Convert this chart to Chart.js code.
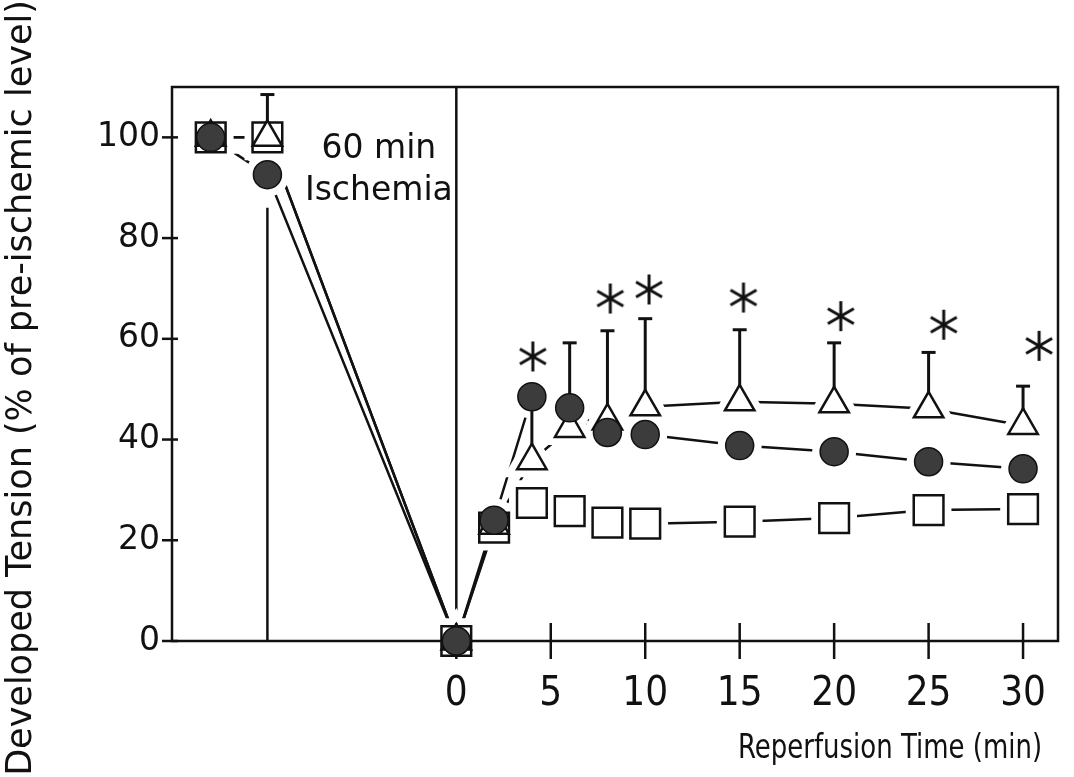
<!DOCTYPE html>
<html>
<head>
<meta charset="utf-8">
<script src="https://cdn.jsdelivr.net/npm/chart.js@4.4.0/dist/chart.umd.min.js"></script>
<style>
  html, body { margin: 0; padding: 0; background: #fff; }
  canvas { display: block; }
</style>
</head>
<body>
<canvas id="c" width="1074" height="777"></canvas>
<script>
// x positions (min); the two pre-ischemic readings sit left of 0
const times = [-13, -10, 0, 2, 4, 6, 8, 10, 15, 20, 25, 30];
const circleVals = [100, 92.6, 0, 24, 48.5, 46.3, 41.4, 41, 38.8, 37.6, 35.6, 34.2];
const triangleVals = [100, 100, 0, 23, 35.8, 42.2, 43.7, 46.5, 47.5, 47.1, 46.1, 42.8];
const squareVals = [100, 100, 0, 22.5, 27.4, 25.8, 23.5, 23.3, 23.7, 24.4, 26, 26.2];
const triangleErrTop = [null, 108.5, null, null, 47, 59.2, 61.6, 64, 61.8, 59.2, 57.3, 50.6];

// significance marks
const starX = [4.05, 8.15, 10.2, 15.2, 20.35, 25.8, 30.85];
const starY = [56.5, 68, 69.8, 68.2, 64.5, 62.8, 58.6];

const xTicks = [0, 5, 10, 15, 20, 25, 30];
const xTickLabels = ['0', '5', '10', '15', '20', '25', '30'];
const yTicks = [0, 20, 40, 60, 80, 100];

// ischemia period boundaries and how high each line goes
const boundX = [-10, 0];
const boundTop = [86, 110];
const ischemiaText = ['60 min', 'Ischemia'];
const ischemiaTextPos = { x: -4.1, y: [96, 87.6] };

const xTitle = 'Reperfusion Time (min)';
const yTitle = 'Developed Tension (% of pre-ischemic level)';

const pts = vals => times.map((t, i) => ({ x: t, y: vals[i] }));

// 6-armed asterisk used as a point style
const star = document.createElement('canvas');
star.width = 34; star.height = 34;
(() => {
  const g = star.getContext('2d');
  g.strokeStyle = '#111';
  g.lineWidth = 3;
  [90, 30, 150].forEach(a => {
    const r = a * Math.PI / 180;
    g.beginPath();
    g.moveTo(17 - Math.cos(r) * 15, 17 - Math.sin(r) * 15);
    g.lineTo(17 + Math.cos(r) * 15, 17 + Math.sin(r) * 15);
    g.stroke();
  });
})();

const series = [
  { vals: squareVals, style: 'rect', r: 21, fill: '#fff', bw: 2.5, order: 13 },
  { vals: triangleVals, style: 'triangle', r: 17, fill: '#fff', bw: 2.5, order: 12 },
  { vals: circleVals, style: 'circle', r: 14, fill: '#3c3c3c', bw: 1.5, order: 11 },
];

const datasets = [];
// connecting lines
series.forEach(s => datasets.push({
  data: pts(s.vals), borderColor: '#111', borderWidth: 2.5, pointRadius: 0,
  tension: 0, clip: false, order: 30,
}));
boundX.forEach((bx, i) => datasets.push({
  data: [{ x: bx, y: 0 }, { x: bx, y: boundTop[i] }], borderColor: '#111', borderWidth: 2.5,
  pointRadius: 0, clip: false, order: 30,
}));
// white halos so lines stop short of the symbols
series.forEach(s => datasets.push({
  data: pts(s.vals), showLine: false, pointStyle: s.style, pointRadius: s.r,
  pointBackgroundColor: '#fff', pointBorderColor: '#fff', pointBorderWidth: 16,
  clip: false, order: 20,
}));
// symbols
series.forEach((s, i) => datasets.push({
  data: pts(s.vals), showLine: false, pointStyle: s.style, pointRadius: s.r,
  pointBackgroundColor: s.fill, pointBorderColor: '#111', pointBorderWidth: s.bw,
  clip: false, order: s.order, guides: i === 0,
}));
datasets.push({
  data: starX.map((x, i) => ({ x, y: starY[i] })), showLine: false,
  pointStyle: star, pointRadius: 15, clip: false, order: 1,
});

// frame, tick marks and error bars go in after the halos, before the symbols
const guides = {
  id: 'guides',
  beforeDatasetDraw(chart, args) {
    if (!chart.data.datasets[args.index].guides) return;
    const { ctx, chartArea: a, scales: { x, y } } = chart;
    const seg = (x1, y1, x2, y2) => { ctx.beginPath(); ctx.moveTo(x1, y1); ctx.lineTo(x2, y2); ctx.stroke(); };
    ctx.save();
    ctx.strokeStyle = '#111';
    ctx.lineWidth = 2.5;
    ctx.strokeRect(a.left, a.top, a.right - a.left, a.bottom - a.top);
    y.ticks.forEach(t => { const p = y.getPixelForValue(t.value); seg(a.left - 10, p, a.left + 6, p); });
    x.ticks.forEach(t => { const p = x.getPixelForValue(t.value); seg(p, a.bottom - 18, p, a.bottom + 18); });
    ctx.lineWidth = 3;
    times.forEach((t, i) => {
      if (triangleErrTop[i] == null) return;
      const px = x.getPixelForValue(t);
      const top = y.getPixelForValue(triangleErrTop[i]);
      seg(px, y.getPixelForValue(triangleVals[i]), px, top);
      seg(px - 7, top, px + 7, top);
    });
    ctx.restore();
  },
  afterDraw(chart) {
    const { ctx, scales: { x, y } } = chart;
    ctx.save();
    ctx.fillStyle = '#111';
    ctx.textAlign = 'center';
    ctx.textBaseline = 'alphabetic';
    ctx.font = '33px "DejaVu Sans"';
    ischemiaText.forEach((s, i) => {
      ctx.fillText(s, x.getPixelForValue(ischemiaTextPos.x), y.getPixelForValue(ischemiaTextPos.y[i]));
    });
    ctx.restore();

    ctx.save();
    ctx.fillStyle = '#111';
    ctx.textAlign = 'center';
    ctx.textBaseline = 'middle';
    ctx.translate(890, 749);
    ctx.scale(0.85, 1);
    ctx.font = '34px "Liberation Sans Narrow", "DejaVu Sans Condensed", sans-serif';
    ctx.fillText(xTitle, 0, 0);
    ctx.restore();

    ctx.save();
    ctx.fillStyle = '#111';
    ctx.textAlign = 'center';
    ctx.textBaseline = 'middle';
    ctx.translate(22, 388);
    ctx.rotate(-Math.PI / 2);
    ctx.font = '35px "DejaVu Sans"';
    ctx.fillText(yTitle, 0, 0);
    ctx.restore();
  },
};

new Chart(document.getElementById('c'), {
  type: 'line',
  data: { datasets },
  plugins: [guides],
  options: {
    responsive: false,
    animation: false,
    layout: { autoPadding: false, padding: { top: 87, right: 16, left: 0, bottom: 0 } },
    plugins: { legend: { display: false }, tooltip: { enabled: false } },
    scales: {
      x: {
        type: 'linear', min: -15.05, max: 31.85,
        afterBuildTicks: s => { s.ticks = xTicks.map(v => ({ value: v })); },
        afterFit: s => { s.height = 136; s.paddingLeft = 0; s.paddingRight = 0; },
        grid: { display: false, drawTicks: false },
        border: { display: false },
        ticks: {
          autoSkip: false, maxRotation: 0, padding: 30, color: '#111',
          font: { family: '"Liberation Sans Narrow", "DejaVu Sans Condensed", sans-serif', size: 40 },
          callback: (v, i) => xTickLabels[i],
        },
      },
      y: {
        type: 'linear', min: 0, max: 110,
        afterBuildTicks: s => { s.ticks = yTicks.map(v => ({ value: v })); },
        afterFit: s => { s.width = 172; s.paddingTop = 0; s.paddingBottom = 0; },
        grid: { display: false, drawTicks: false },
        border: { display: false },
        ticks: { padding: 12, color: '#111', font: { family: '"DejaVu Sans"', size: 33 } },
      },
    },
  },
});
</script>
</body>
</html>
